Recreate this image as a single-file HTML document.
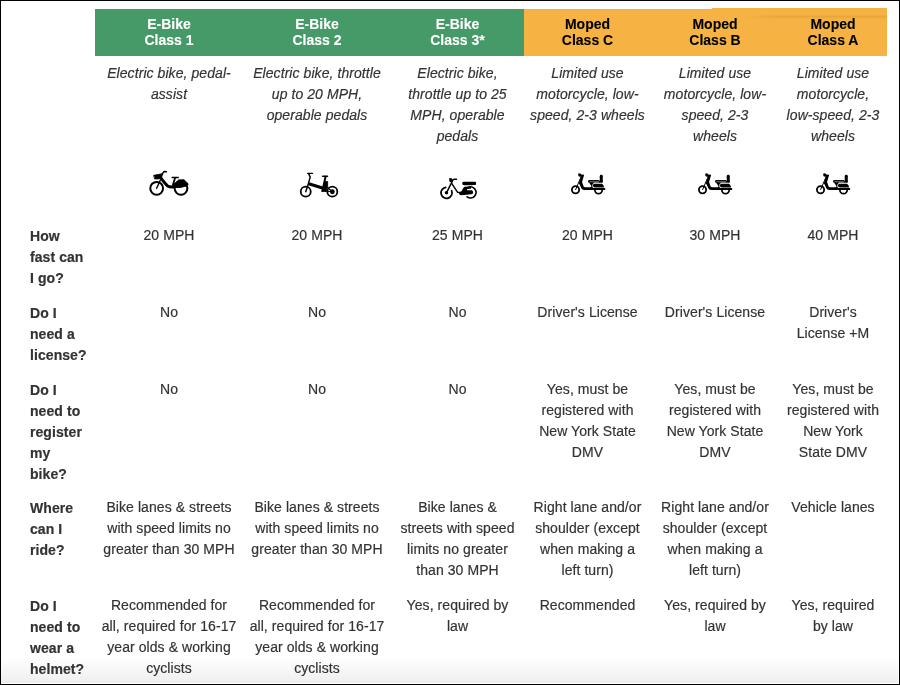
<!DOCTYPE html>
<html lang="en">
<head>
<meta charset="utf-8">
<title>E-Bike and Moped Classes</title>
<style>
html,body{margin:0;padding:0;background:#fff;}
body{width:900px;height:685px;overflow:hidden;position:relative;font-family:"Liberation Sans",Arial,Helvetica,sans-serif;font-size:14px;line-height:21px;color:#333;letter-spacing:0.07px;-webkit-text-stroke:0.18px currentColor;}
#frame{position:absolute;left:0;top:0;width:898px;height:683px;border:1px solid #000;box-sizing:content-box;z-index:5;pointer-events:none;}
#fade{position:absolute;left:1px;top:657px;width:897px;height:26px;background:linear-gradient(to bottom,#fff 0%,#f8f8f8 45%,#eeeeee 100%);z-index:0;}
#strip{position:absolute;left:712px;top:8px;width:175px;height:1px;background:#f6b344;z-index:3;}
#shade{position:absolute;left:745px;top:15px;width:142px;height:4px;background:linear-gradient(to bottom,rgba(200,130,30,0) 0%,rgba(200,130,30,.28) 35%,rgba(200,130,30,.12) 70%,rgba(200,130,30,0) 100%);-webkit-mask-image:linear-gradient(to right,transparent 0,#000 30px);mask-image:linear-gradient(to right,transparent 0,#000 30px);z-index:3;pointer-events:none;}
#edge{position:absolute;left:1px;top:683px;width:898px;height:1px;background:#fff;z-index:6;}
#edge2{position:absolute;left:898px;top:1px;width:1px;height:683px;background:#fff;z-index:6;}
table{z-index:2;position:absolute;left:23px;top:9px;border-collapse:collapse;table-layout:fixed;width:864px;}
td,th{padding:7px 0 7px 0;vertical-align:top;text-align:center;font-weight:normal;white-space:nowrap;}
thead th{font-weight:bold;line-height:16px;padding:7px 0 8px 0;height:32px;letter-spacing:0;-webkit-text-stroke:0.1px currentColor;}
th.g{background:#469a68;color:#fff;}
th.o{background:#f6b344;color:#000;}
tbody th{text-align:left;font-weight:bold;padding-left:7px;padding-top:8px;padding-bottom:6px;}
tr.desc td{font-style:italic;padding-top:7px;padding-bottom:6px;}
tr.icons td{height:53px;padding:12px 0 0;}
tr.reg th{padding-bottom:5px;}
tr.reg td{padding-bottom:6px;}
tr.icons svg{display:block;margin:0 auto;}
</style>
</head>
<body>
<div id="fade"></div>
<table>
<colgroup><col style="width:72px"><col style="width:148px"><col style="width:148px"><col style="width:133px"><col style="width:127px"><col style="width:128px"><col style="width:108px"></colgroup>
<thead>
<tr><th></th><th class="g">E-Bike<br>Class 1</th><th class="g">E-Bike<br>Class 2</th><th class="g">E-Bike<br>Class 3*</th><th class="o">Moped<br>Class C</th><th class="o">Moped<br>Class B</th><th class="o">Moped<br>Class A</th></tr>
</thead>
<tbody>
<tr class="desc"><th></th><td>Electric bike, pedal-<br>assist</td><td>Electric bike, throttle<br>up to 20 MPH,<br>operable pedals</td><td>Electric bike,<br>throttle up to 25<br>MPH, operable<br>pedals</td><td>Limited use<br>motorcycle, low-<br>speed, 2-3 wheels</td><td>Limited use<br>motorcycle, low-<br>speed, 2-3<br>wheels</td><td>Limited use<br>motorcycle,<br>low-speed, 2-3<br>wheels</td></tr>
<tr class="icons"><th></th><td><svg style="position:relative;left:0px" viewBox="0 0 900 600" width="60" height="40" fill="none" stroke="#000" stroke-linecap="round" stroke-linejoin="round"><circle cx="265" cy="350" r="96" stroke-width="30"/><circle cx="630" cy="350" r="96" stroke-width="30"/><path d="M265 350 L318 232" stroke-width="21"/><path d="M224 154 L350 130 L338 206 L240 210 Z" fill="#000" stroke-width="12"/><path d="M345 150 Q360 98 385 96 L410 102" stroke-width="23"/><path d="M335 205 Q400 290 430 315 Q460 335 520 330" stroke-width="46"/><path d="M498 187 L588 187" stroke-width="23"/><path d="M542 192 L508 300" stroke-width="27"/><path d="M505 338 L520 290 L595 224 L675 222 L737 282 L722 312 Q640 346 505 338 Z" fill="#000" stroke-width="14"/></svg></td><td><svg style="position:relative;left:2px" viewBox="0 0 900 600" width="60" height="40" fill="none" stroke="#000" stroke-linecap="round" stroke-linejoin="round"><circle cx="251" cy="400" r="75" stroke-width="27"/><circle cx="650" cy="400" r="75" stroke-width="27"/><circle cx="650" cy="400" r="37" fill="#000" stroke="none"/><path d="M280 125 L352 125" stroke-width="21"/><path d="M296 132 L318 182 L290 282 L251 400" stroke-width="22"/><path d="M296 282 L515 350" stroke-width="46" stroke-linecap="butt"/><path d="M505 168 L578 168" stroke-width="21"/><path d="M548 176 L522 295" stroke-width="30"/><path d="M545 246 L580 246 L580 320 L556 398 L490 398 L506 320 Z" fill="#000" stroke-width="12"/><path d="M576 338 L645 396" stroke-width="17"/><path d="M556 394 L645 398" stroke-width="15"/></svg></td><td><svg style="position:relative;left:1.5px" viewBox="0 0 900 600" width="60" height="40" fill="#000" stroke="none"><path d="M250 335 A83 83 0 1 0 340 386" fill="none" stroke="#000" stroke-width="26" stroke-linecap="round"/><circle cx="262" cy="417" r="26"/><path d="M262 417 L346 250" fill="none" stroke="#000" stroke-width="22" stroke-linecap="round"/><path d="M308 204 L340 204 L348 244 L314 250 Z" stroke="#000" stroke-width="12" stroke-linejoin="round"/><path d="M346 248 Q352 218 380 214 L414 214" fill="none" stroke="#000" stroke-width="20" stroke-linecap="round"/><path d="M340 275 L430 410 L470 414" fill="none" stroke="#000" stroke-width="22" stroke-linecap="round" stroke-linejoin="round"/><rect x="500" y="250" width="206" height="50" rx="16"/><path d="M525 313 L655 313" fill="none" stroke="#9a9a9a" stroke-width="14"/><path d="M450 424 Q490 405 510 352 Q520 326 545 326 L630 326 L630 355 L570 360 L574 380 L640 380 Q662 384 662 412 Q662 436 636 440 L480 452 Q444 446 450 424 Z"/><path d="M580 340 A83 83 0 1 1 572 478" fill="none" stroke="#000" stroke-width="26" stroke-linecap="round"/></svg></td><td><svg style="position:relative;left:1.5px" viewBox="0 0 900 600" width="60" height="40" fill="#000" stroke="none"><circle cx="248" cy="372" r="54" fill="none" stroke="#000" stroke-width="27"/><path d="M250 368 L330 180" fill="none" stroke="#000" stroke-width="15" stroke-linecap="round"/><path d="M288 130 Q312 114 336 144 L378 146 L346 256 L368 318 Q374 332 396 332 L500 332 L500 374 L378 376 Q346 374 332 344 L312 296 L296 276 L328 178 L298 174 Q284 152 288 130 Z"/><rect x="436" y="224" width="172" height="40" rx="18"/><path d="M462 246 L592 246" fill="none" stroke="#9a9a9a" stroke-width="10" stroke-linecap="round"/><path d="M446 258 L520 258 L520 350 L470 350 Q496 330 482 306 Z"/><rect x="611" y="146" width="46" height="116" rx="22"/><path d="M600 240 L657 240 L657 264 L600 264 Z"/><rect x="470" y="346" width="222" height="28" rx="8"/><rect x="500" y="272" width="188" height="74" rx="28" fill="#fff"/><path d="M534 281 L646 281 Q670 298 678 336 L534 336 Q509 333 509 308 Q509 284 534 281 Z"/><path d="M538 374 A55 55 0 0 0 648 374" fill="none" stroke="#000" stroke-width="26"/></svg></td><td><svg style="position:relative;left:1.2px" viewBox="0 0 900 600" width="60" height="40" fill="#000" stroke="none"><circle cx="248" cy="372" r="54" fill="none" stroke="#000" stroke-width="27"/><path d="M250 368 L330 180" fill="none" stroke="#000" stroke-width="15" stroke-linecap="round"/><path d="M288 130 Q312 114 336 144 L378 146 L346 256 L368 318 Q374 332 396 332 L500 332 L500 374 L378 376 Q346 374 332 344 L312 296 L296 276 L328 178 L298 174 Q284 152 288 130 Z"/><rect x="436" y="224" width="172" height="40" rx="18"/><path d="M462 246 L592 246" fill="none" stroke="#9a9a9a" stroke-width="10" stroke-linecap="round"/><path d="M446 258 L520 258 L520 350 L470 350 Q496 330 482 306 Z"/><rect x="611" y="146" width="46" height="116" rx="22"/><path d="M600 240 L657 240 L657 264 L600 264 Z"/><rect x="470" y="346" width="222" height="28" rx="8"/><rect x="500" y="272" width="188" height="74" rx="28" fill="#fff"/><path d="M534 281 L646 281 Q670 298 678 336 L534 336 Q509 333 509 308 Q509 284 534 281 Z"/><path d="M538 374 A55 55 0 0 0 648 374" fill="none" stroke="#000" stroke-width="26"/></svg></td><td><svg style="position:relative;left:1.2px" viewBox="0 0 900 600" width="60" height="40" fill="#000" stroke="none"><circle cx="248" cy="372" r="54" fill="none" stroke="#000" stroke-width="27"/><path d="M250 368 L330 180" fill="none" stroke="#000" stroke-width="15" stroke-linecap="round"/><path d="M288 130 Q312 114 336 144 L378 146 L346 256 L368 318 Q374 332 396 332 L500 332 L500 374 L378 376 Q346 374 332 344 L312 296 L296 276 L328 178 L298 174 Q284 152 288 130 Z"/><rect x="436" y="224" width="172" height="40" rx="18"/><path d="M462 246 L592 246" fill="none" stroke="#9a9a9a" stroke-width="10" stroke-linecap="round"/><path d="M446 258 L520 258 L520 350 L470 350 Q496 330 482 306 Z"/><rect x="611" y="146" width="46" height="116" rx="22"/><path d="M600 240 L657 240 L657 264 L600 264 Z"/><rect x="470" y="346" width="222" height="28" rx="8"/><rect x="500" y="272" width="188" height="74" rx="28" fill="#fff"/><path d="M534 281 L646 281 Q670 298 678 336 L534 336 Q509 333 509 308 Q509 284 534 281 Z"/><path d="M538 374 A55 55 0 0 0 648 374" fill="none" stroke="#000" stroke-width="26"/></svg></td></tr>
<tr><th>How<br>fast can<br>I go?</th><td>20 MPH</td><td>20 MPH</td><td>25 MPH</td><td>20 MPH</td><td>30 MPH</td><td>40 MPH</td></tr>
<tr><th>Do I<br>need a<br>license?</th><td>No</td><td>No</td><td>No</td><td>Driver's License</td><td>Driver's License</td><td>Driver's<br>License +M</td></tr>
<tr class="reg"><th>Do I<br>need to<br>register<br>my<br>bike?</th><td>No</td><td>No</td><td>No</td><td>Yes, must be<br>registered with<br>New York State<br>DMV</td><td>Yes, must be<br>registered with<br>New York State<br>DMV</td><td>Yes, must be<br>registered with<br>New York<br>State DMV</td></tr>
<tr><th>Where<br>can I<br>ride?</th><td>Bike lanes &amp; streets<br>with speed limits no<br>greater than 30 MPH</td><td>Bike lanes &amp; streets<br>with speed limits no<br>greater than 30 MPH</td><td>Bike lanes &amp;<br>streets with speed<br>limits no greater<br>than 30 MPH</td><td>Right lane and/or<br>shoulder (except<br>when making a<br>left turn)</td><td>Right lane and/or<br>shoulder (except<br>when making a<br>left turn)</td><td>Vehicle lanes</td></tr>
<tr><th>Do I<br>need to<br>wear a<br>helmet?</th><td>Recommended for<br>all, required for 16-17<br>year olds &amp; working<br>cyclists</td><td>Recommended for<br>all, required for 16-17<br>year olds &amp; working<br>cyclists</td><td>Yes, required by<br>law</td><td>Recommended</td><td>Yes, required by<br>law</td><td>Yes, required<br>by law</td></tr>
</tbody>
</table>
<div id="strip"></div><div id="shade"></div>
<div id="edge"></div><div id="edge2"></div>
<div id="frame"></div>
</body>
</html>
